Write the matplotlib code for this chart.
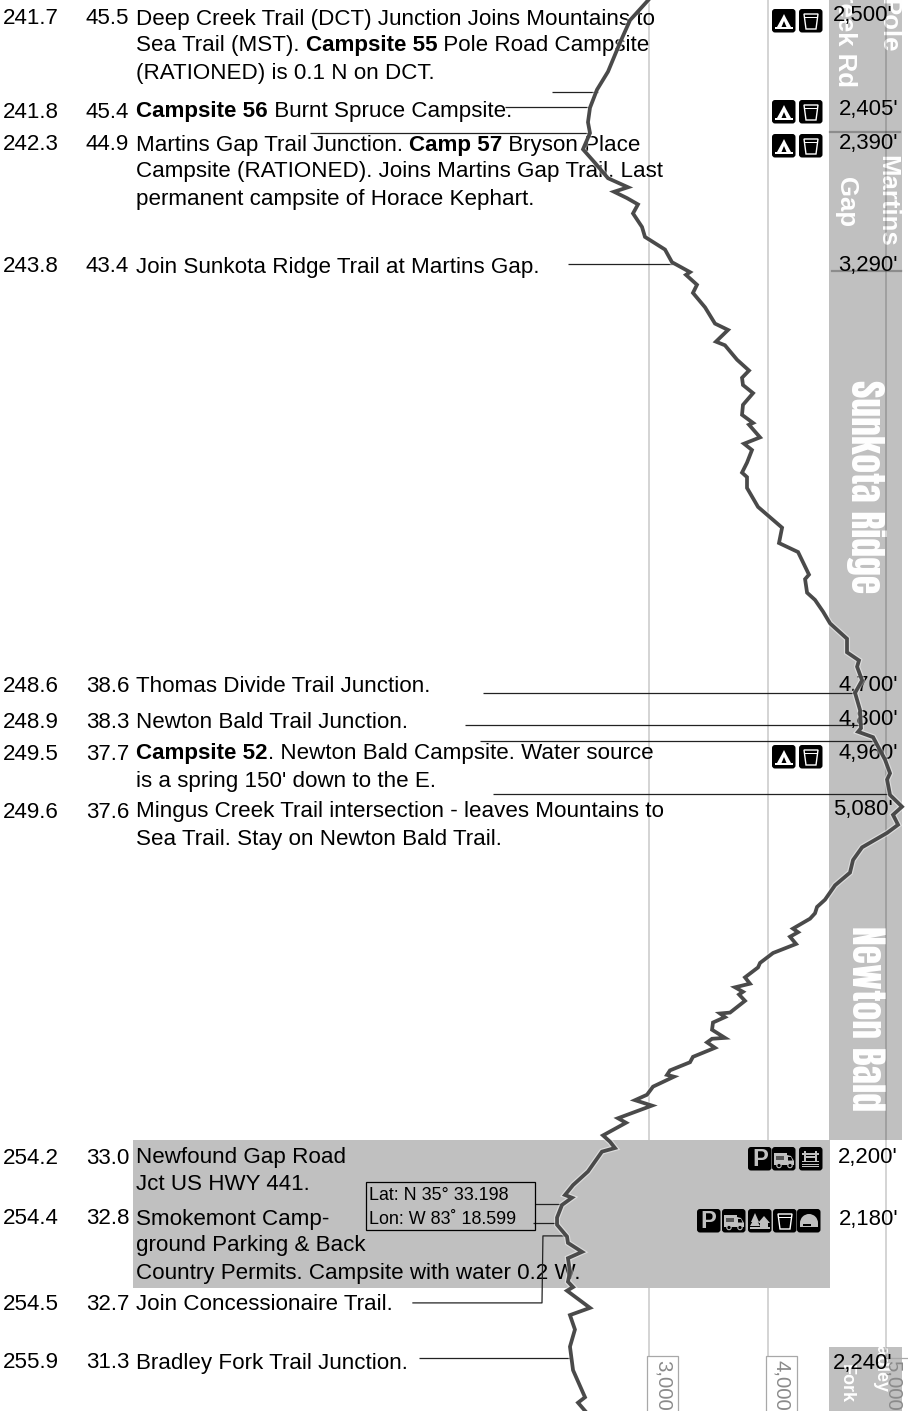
import matplotlib
matplotlib.use("Agg")
import matplotlib.pyplot as plt
from matplotlib.patches import Rectangle, FancyBboxPatch, Polygon, Wedge
from matplotlib.transforms import Affine2D
import matplotlib.patheffects as pe

# ---------- data ----------
profile_elev = [2992,2840,2755,2654,2561,2502,2485,2502,2443,2544,2654,2823,2705,2814,2907,2865,2941,2966,3135,3194,
 3346,3312,3405,3371,3473,3557,3667,3565,3641,3743,3844,3785,3793,3878,3793,3785,3878,3844,3937,3802,3869,3827,3785,3827,3827,3920,
 4123,4097,4258,4350,4317,4334,4401,4469,4528,4671,4671,4772,4756,4798,4739,4781,4789,4764,4891,4992,5034,5009,5034,5135,5059,5102,5009,
 4798,4722,4696,4570,4485,4418,4401,4359,4215,4258,4190,4241,4047,3937,3920,3810,3852,3726,3793,3760,3810,3684,3599,3641,3540,3532,3641,3532,3490,3557,
 3371,3346,3177,3152,3211,3034,2983,2882,3025,2738,2806,2612,2671,2713,2603,2485,2359,2291,2350,2266,2224,2224,2308,2316,2435,2316,2333,2316,2359,2308,2502,2333,2375,2333,2359,2460,2401,2460]
profile_mile = [240.88,241.10,241.35,241.67,241.87,242.07,242.23,242.35,242.53,242.68,242.85,242.95,243.00,243.07,243.14,243.24,243.39,243.50,243.64,243.78,
 243.89,243.92,244.03,244.12,244.28,244.46,244.53,244.66,244.70,244.86,244.98,245.06,245.14,245.23,245.36,245.47,245.56,245.58,245.72,245.79,245.86,246.00,246.11,246.16,246.28,246.49,
 246.72,246.89,246.99,247.24,247.29,247.44,247.52,247.65,247.78,247.95,248.10,248.19,248.26,248.41,248.55,248.74,248.94,248.98,249.04,249.29,249.44,249.51,249.68,249.81,249.90,250.01,250.10,
 250.26,250.40,250.54,250.68,250.84,250.92,250.99,251.05,251.16,251.20,251.25,251.33,251.43,251.54,251.59,251.70,251.77,251.81,251.86,251.89,251.96,252.09,252.10,252.14,252.20,252.28,252.37,252.38,252.42,252.48,
 252.58,252.64,252.73,252.78,252.80,252.91,253.00,253.06,253.12,253.26,253.31,253.45,253.52,253.59,253.63,253.85,254.00,254.11,254.14,254.22,254.36,254.44,254.57,254.64,254.74,254.81,254.96,255.07,255.13,255.17,255.36,255.44,255.60,255.79,256.05,256.35,256.41,256.50]

leader_mile = [241.894,242.061,242.349,243.80,248.55,248.905,249.08,249.67,255.914,254.209,254.419]
leader_from = [2181,1785,139,2316,1599,1447,1574,1683,1059,2038,2021]
leader_to   = [2570,2502,2502,3219,4739,4781,4891,5009,2333,2274,2224]
bent_elev = [2308,2105,2097,1008]
bent_mile = [254.563,254.563,255.305,255.305]

grid_values = [3000,4000,5000]
north_miles = ["241.7","241.8","242.3","243.8","248.6","248.9","249.5","249.6","254.2","254.4","254.5","255.9"]
south_miles = ["45.5","45.4","44.9","43.4","38.6","38.3","37.7","37.6","33.0","32.8","32.7","31.3"]
row_y = [17,110,143,265,684,720,752,810,1156,1217,1302,1361]
descriptions = [
 [[("Deep Creek Trail (DCT) Junction Joins Mountains to",0)],
  [("Sea Trail (MST). ",0),("Campsite 55",1),(" Pole Road Campsite",0)],
  [("(RATIONED) is 0.1 N on DCT.",0)]],
 [[("Campsite 56",1),(" Burnt Spruce Campsite.",0)]],
 [[("Martins Gap Trail Junction. ",0),("Camp 57",1),(" Bryson Place",0)],
  [("Campsite (RATIONED). Joins Martins Gap Trail. Last",0)],
  [("permanent campsite of Horace Kephart.",0)]],
 [[("Join Sunkota Ridge Trail at Martins Gap.",0)]],
 [[("Thomas Divide Trail Junction.",0)]],
 [[("Newton Bald Trail Junction.",0)]],
 [[("Campsite 52",1),(". Newton Bald Campsite. Water source",0)],
  [("is a spring 150' down to the E.",0)]],
 [[("Mingus Creek Trail intersection - leaves Mountains to",0)],
  [("Sea Trail. Stay on Newton Bald Trail.",0)]],
 [[("Newfound Gap Road",0)],[("Jct US HWY 441.",0)]],
 [[("Smokemont Camp-",0)],[("ground Parking & Back",0)],[("Country Permits. Campsite with water 0.2 W.",0)]],
 [[("Join Concessionaire Trail.",0)]],
 [[("Bradley Fork Trail Junction.",0)]],
]
elevations = [2500,2405,2390,3290,4700,4800,4960,5080,2200,2180,2240]
elev_y = [16,109,144,265,686,719,754,810,1157,1219,1364]
elev_right = [893,898,898,898,898,898,898,893,898,898,892]
small_sections = [("Pole",888,52,"bottom",18.5),("Creek Rd",845,87,"bottom",18.5),("Martins",887,247,"bottom",18.5),
                  ("Gap",846,227,"bottom",18.5),("Bradley",880,1327,"top",13),("Fork",846,1403,"bottom",13)]
big_sections = [("Sunkota Ridge",866,593,"bottom",27),("Newton Bald",866,1111,"bottom",27)]
icon_rows = [
 (9,[("tent",772),("cup",799)]),(100,[("tent",772),("cup",799)]),(134,[("tent",772),("cup",799)]),
 (745,[("tent",772),("cup",799)]),
 (1147,[("P",748),("rv",772),("shelter",799)]),
 (1209,[("P",697),("rv",722),("trees",748),("cup",773),("dome",797)]),
]
coords = ["Lat: N 35\u00b0 33.198","Lon: W 83\u02da 18.599"]

# ---------- setup ----------
COND = ["Anton","Oswald","Roboto Condensed","Liberation Sans"]
FONT = "Liberation Sans"
W,H = 908,1411
fig = plt.figure(figsize=(W/100,H/100),dpi=100)
ax = fig.add_axes([0,0,1,1])
SX, SY = 0.1185, 90.3
ax.set_xlim(3000-649/SX, 3000+(W-649)/SX)
ax.set_ylim(243.8+(H-264)/SY, 243.8-264/SY)
ax.axis("off")
px = Affine2D().scale(1,-1).translate(0,H)
GRAY = "#c0c0c0"
def rect(x0,y0,x1,y1,**k):
    ax.add_patch(Rectangle((x0,y0),x1-x0,y1-y0,transform=px,**k))

# bands
rect(829,-2,902,1140,fc=GRAY,ec="none",zorder=1)
rect(829,1347,902,1413,fc=GRAY,ec="none",zorder=1)
for (t,x,y,va,fs) in big_sections:
    ax.text(x,y,t,transform=px,rotation=-90,ha="center",va=va,color="white",
            family=COND,fontsize=fs,zorder=1.5)
for (t,x,y,va,fs) in small_sections:
    ax.text(x,y,t,transform=px,rotation=-90,ha="center",va=va,color="white",
            family=FONT,weight="bold",fontsize=fs,zorder=1.5)
ax.plot([830,900],[132,132],transform=px,color="#8c8c8c",lw=1.6,zorder=1.6)
ax.plot([832,901],[271,271],transform=px,color="#8c8c8c",lw=1.6,zorder=1.6)

# grid and tick boxes
ends = {3000:1356,4000:1356,5000:1358}
H0 = 243.8
for v in grid_values:
    ymax = H0+(ends[v]-264)/SY
    ax.plot([v,v],[ax.get_ylim()[1],ymax],color="black",alpha=0.21,lw=1.1,zorder=2.5 if v<5000 else 4.5)
    xp = 649+(v-3000)*SX
    if v<5000:
        ax.add_patch(Rectangle((xp-2,1356),31,60,transform=px,fc="white",ec="#a8a8a8",lw=0.9,zorder=2.6))
    else:
        ax.plot([xp,908],[1358,1358],transform=px,color="#a8a8a8",lw=0.9,zorder=2.6)
    ax.text(xp+(14 if v<5000 else 7),1360,f"{v:,}'",transform=px,rotation=-90,ha="center",va="top",
            color="#8a8a8a",family=FONT,fontsize=14.7,zorder=4.6)

# gray box
rect(133,1140,830,1288,fc=GRAY,ec="none",zorder=3)

# text rows
FS=16.1
rend = fig.canvas.get_renderer()
def width(s,weight):
    t = ax.text(0,0,"x"+s+"x",family=FONT,weight=weight,fontsize=FS)
    a = t.get_window_extent(rend).width; t.set_text("xx")
    b = t.get_window_extent(rend).width; t.remove()
    return a-b
for nm,sm,y,desc in zip(north_miles,south_miles,row_y,descriptions):
    base = y+7.5
    ax.text(3,base,nm,transform=px,family=FONT,fontsize=FS,va="baseline",zorder=4)
    ax.text(86,base,sm,transform=px,family=FONT,fontsize=FS,va="baseline",zorder=4)
    for i,line in enumerate(desc):
        x=136; yy=base+i*27
        for seg,b in line:
            w="bold" if b else "normal"
            ax.text(x,yy,seg,transform=px,family=FONT,weight=w,fontsize=FS,va="baseline",zorder=4)
            x+=width(seg,w)
for e,y,r in zip(elevations,elev_y,elev_right):
    ax.text(r,y,f"{e:,}'",transform=px,family=FONT,fontsize=15.9,ha="right",va="center",zorder=5.5)

# leaders
for m,a,b in zip(leader_mile,leader_from,leader_to):
    ax.plot([a,b],[m,m],color="#222222",lw=0.9,zorder=5,solid_capstyle="butt")
ax.plot(bent_elev,bent_mile,color="#222222",lw=0.9,zorder=5)

# coordinates box
rect(366,1182,535,1230,fc="none",ec="black",lw=0.9,zorder=5)
ax.text(369,1196,coords[0],transform=px,family=FONT,fontsize=12.9,va="center",zorder=5)
ax.text(369,1219,coords[1],transform=px,family=FONT,fontsize=12.9,va="center",zorder=5)

# icons
def poly(x,y,pts,**k):
    k.setdefault("fc","white"); k.setdefault("ec","none")
    ax.add_patch(Polygon([(x+a,y+b) for a,b in pts],closed=True,transform=px,zorder=5.3,**k))
def icon(kind,x,y):
    s=23.5
    ax.add_patch(FancyBboxPatch((x+2,y+2),s-4,s-4,boxstyle="round,pad=2,rounding_size=3",transform=px,fc="black",ec="none",zorder=5.2))
    if kind=="tent":
        poly(x,y,[(12,5),(14,9),(19,18),(5,18),(10,9)])
        poly(x,y,[(12,12),(14.5,18),(9.5,18)],fc="black")
        poly(x,y,[(3,18),(21,18),(21,19.5),(3,19.5)])
    elif kind=="cup":
        poly(x,y,[(5,5),(19,5),(17,20),(7,20)],fc="none",ec="white",lw=1.0)
        poly(x,y,[(5,8),(19,8),(18.6,9),(5.4,9)])
    elif kind=="P":
        ax.text(x+s/2,y+s/2+.5,"P",transform=px,color=GRAY,family=FONT,weight="bold",fontsize=17,ha="center",va="center",zorder=5.3)
    elif kind=="rv":
        poly(x,y,[(2,6),(15,6),(15,8),(19,9),(22,14),(22,18),(2,18)],fc=GRAY)
        poly(x,y,[(16,10),(19,10),(20.5,13.5),(16,13.5)],fc="black")
        poly(x,y,[(4,9),(12,9),(12,13),(4,13)],fc="#555555")
        for c in (7,18):
            ax.add_patch(plt.Circle((x+c,y+18.5),2.2,transform=px,fc="black",ec=GRAY,lw=.8,zorder=5.4))
    elif kind=="shelter":
        poly(x,y,[(3,6),(20,6),(20,7.5),(3,7.5)],fc=GRAY)
        poly(x,y,[(6,9),(17,9),(17,10.5),(6,10.5)],fc=GRAY)
        poly(x,y,[(5,4),(7,4),(7,14),(5,14)],fc=GRAY)
        poly(x,y,[(16,4),(18,4),(18,14),(16,14)],fc=GRAY)
        for b in (14,16.5,19):
            poly(x,y,[(3,b),(20,b),(20,b+1.3),(3,b+1.3)],fc=GRAY)
    elif kind=="trees":
        poly(x,y,[(7,4),(11,13),(3,13)],fc=GRAY)
        poly(x,y,[(7,8),(12,17),(2,17)],fc=GRAY)
        poly(x,y,[(16,7),(22,14),(10,14)],fc=GRAY)
        poly(x,y,[(12,14),(20,14),(20,18),(12,18)],fc=GRAY)
        poly(x,y,[(2,18),(22,18),(22,19.5),(2,19.5)],fc=GRAY)
    elif kind=="dome":
        ax.add_patch(Wedge((x+12,y+14),-9,0,180,transform=px,fc=GRAY,ec="none",zorder=5.3))
        poly(x,y,[(3,14),(21,14),(21,18),(3,18)],fc=GRAY)
        poly(x,y,[(6,14.5),(14,14.5),(14,17),(6,17)],fc="black")
for y,items in icon_rows:
    for kind,x in items:
        icon(kind,x,y)

# profile
ax.plot(profile_elev,profile_mile,color="#4a4a4a",lw=2.7,zorder=6,solid_joinstyle="miter",
        path_effects=[pe.Stroke(linewidth=4.4,foreground="white",alpha=0.45),pe.Normal()])

fig.savefig("out.png",dpi=100)
